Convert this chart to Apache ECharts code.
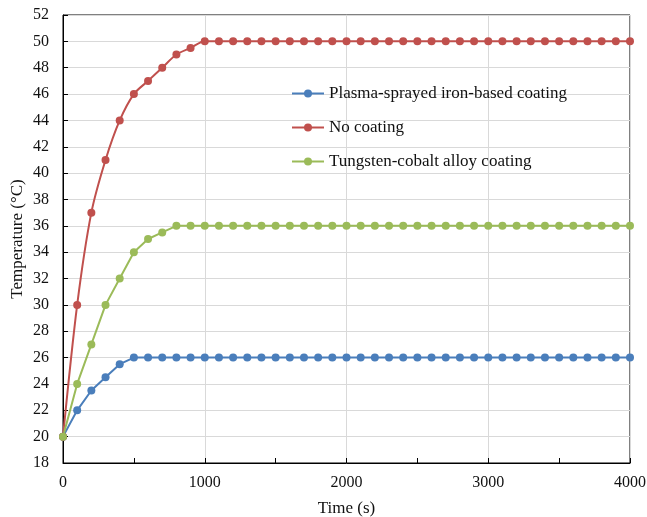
<!DOCTYPE html>
<html>
<head>
<meta charset="utf-8">
<script src="https://cdn.jsdelivr.net/npm/echarts@6/dist/echarts.min.js"></script>
<style>html,body{margin:0;padding:0;background:#fff}#c{width:647px;height:517px}</style>
</head>
<body>
<div id="c"></div>
<script>
var times = [0,100,200,300,400,500,600,700,800,900,1000,1100,1200,1300,1400,1500,1600,1700,1800,1900,2000,2100,2200,2300,2400,2500,2600,2700,2800,2900,3000,3100,3200,3300,3400,3500,3600,3700,3800,3900,4000];
var plasma = [20,22,23.5,24.5,25.5,26,26,26,26,26,26,26,26,26,26,26,26,26,26,26,26,26,26,26,26,26,26,26,26,26,26,26,26,26,26,26,26,26,26,26,26];
var noCoating = [20,30,37,41,44,46,47,48,49,49.5,50,50,50,50,50,50,50,50,50,50,50,50,50,50,50,50,50,50,50,50,50,50,50,50,50,50,50,50,50,50,50];
var tungsten = [20,24,27,30,32,34,35,35.5,36,36,36,36,36,36,36,36,36,36,36,36,36,36,36,36,36,36,36,36,36,36,36,36,36,36,36,36,36,36,36,36,36];
var seriesNames = ['Plasma-sprayed iron-based coating','No coating','Tungsten-cobalt alloy coating'];
var xTicks = [0,1000,2000,3000,4000];

function pairs(v){ return times.map(function(t,i){ return [t, v[i]]; }); }
var font = '"Liberation Serif","Times New Roman",serif';
var chart = echarts.init(document.getElementById('c'));
function mk(name, data, color, smooth){
  return {name:name, type:'line', data:pairs(data), smooth:smooth, symbol:'circle', symbolSize:8,
    itemStyle:{color:color}, lineStyle:{color:color, width:2}, animation:false};
}
chart.setOption({
  animation:false,
  textStyle:{fontFamily:font},
  grid:{left:63, right:17, top:15, bottom:54, outerBoundsMode:'none', containLabel:false,
    show:true, borderColor:'#000', borderWidth:1, backgroundColor:'transparent'},
  legend:{orient:'vertical', left:286, top:80, itemGap:17, itemWidth:32, itemHeight:10,
    textStyle:{fontFamily:font, fontSize:17, color:'#111'}, data:seriesNames},
  xAxis:{type:'value', min:0, max:4000, interval:1000,
    name:'Time (s)', nameLocation:'middle', nameGap:37, nameMoveOverlap:false,
    nameTextStyle:{fontFamily:font, fontSize:17, color:'#111'},
    axisLine:{show:true, onZero:false, lineStyle:{color:'#000', width:1}},
    axisTick:{show:true, inside:true, length:5, lineStyle:{color:'#000'}},
    minorTick:{show:true, splitNumber:2, length:5, lineStyle:{color:'#000'}},
    axisLabel:{fontFamily:font, fontSize:16, color:'#111', margin:12,
      formatter:function(v){ return xTicks.indexOf(v)>=0 ? String(v) : ''; }},
    splitLine:{show:true, lineStyle:{color:'#d9d9d9'}}},
  yAxis:{type:'value', min:18, max:52, interval:2,
    name:'Temperature (\u00B0C)', nameLocation:'middle', nameGap:37, nameMoveOverlap:false,
    nameTextStyle:{fontFamily:font, fontSize:17, color:'#111'},
    axisLine:{show:true, lineStyle:{color:'#000', width:1}},
    axisTick:{show:true, inside:true, length:5, lineStyle:{color:'#000'}},
    axisLabel:{fontFamily:font, fontSize:16, color:'#111', margin:14},
    splitLine:{show:true, lineStyle:{color:'#d9d9d9'}}},
  series:[
    mk(seriesNames[0], plasma, '#4a7ebb', false),
    mk(seriesNames[1], noCoating, '#c0504d', 0.3),
    mk(seriesNames[2], tungsten, '#9bbb59', false)
  ]
});
</script>
</body>
</html>
